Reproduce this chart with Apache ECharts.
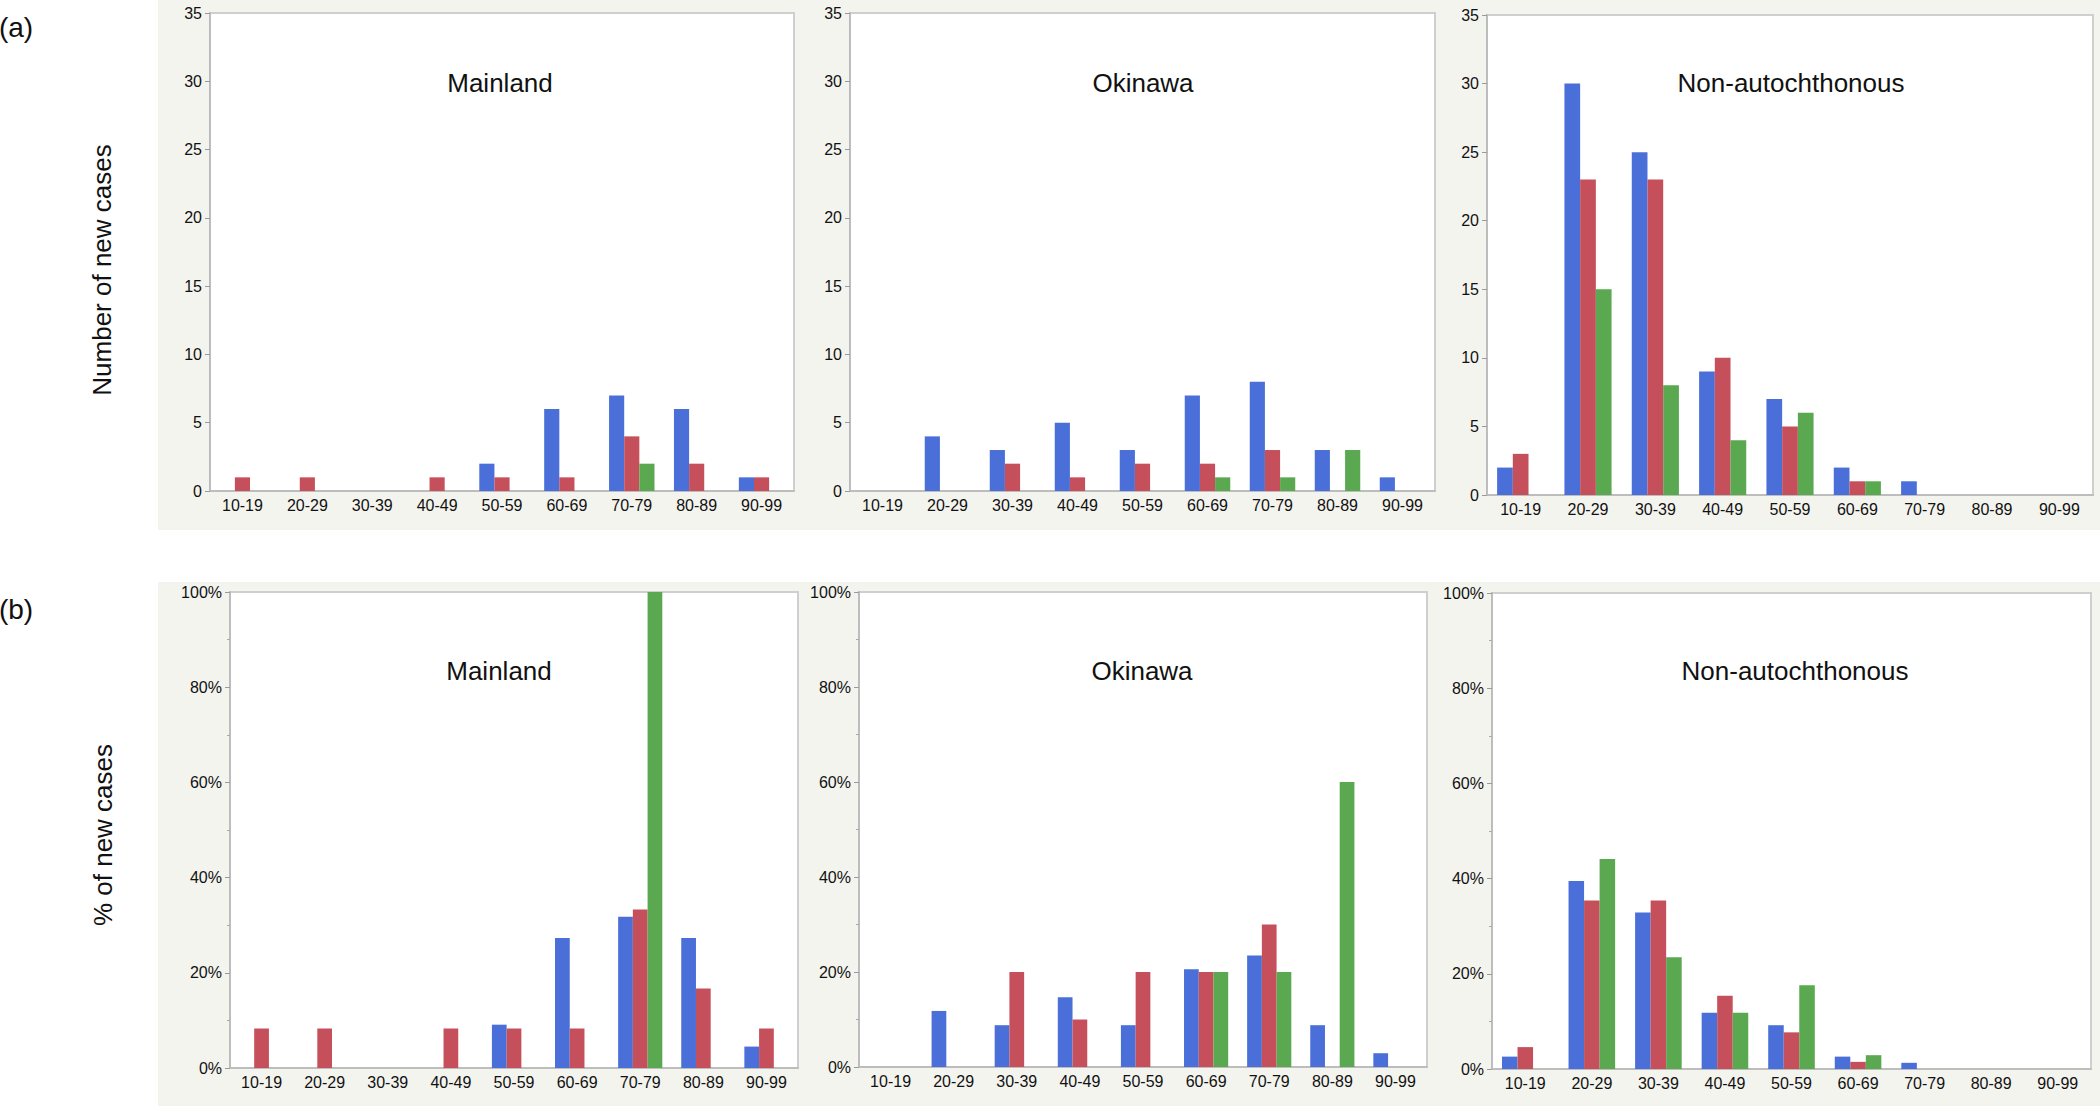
<!DOCTYPE html>
<html>
<head>
<meta charset="utf-8">
<script src="https://cdn.jsdelivr.net/npm/echarts@6/dist/echarts.min.js"></script>
<style>
  html, body { margin: 0; padding: 0; background: #ffffff; }
  #chart { width: 2100px; height: 1106px; }
</style>
</head>
<body>
<div id="chart"></div>
<script>
// ---------- data ----------
const categories = ['10-19', '20-29', '30-39', '40-49', '50-59', '60-69', '70-79', '80-89', '90-99'];
const panelTitles = ['Mainland', 'Okinawa', 'Non-autochthonous'];
const countTicks = [0, 5, 10, 15, 20, 25, 30, 35];
const percentTicks = ['0%', '20%', '40%', '60%', '80%', '100%'];

// (a) number of new cases
const mainlandCountBlue  = [0, 0, 0, 0, 2, 6, 7, 6, 1];
const mainlandCountRed   = [1, 1, 0, 1, 1, 1, 4, 2, 1];
const mainlandCountGreen = [0, 0, 0, 0, 0, 0, 2, 0, 0];

const okinawaCountBlue  = [0, 4, 3, 5, 3, 7, 8, 3, 1];
const okinawaCountRed   = [0, 0, 2, 1, 2, 2, 3, 0, 0];
const okinawaCountGreen = [0, 0, 0, 0, 0, 1, 1, 3, 0];

const nonAutoCountBlue  = [2, 30, 25, 9, 7, 2, 1, 0, 0];
const nonAutoCountRed   = [3, 23, 23, 10, 5, 1, 0, 0, 0];
const nonAutoCountGreen = [0, 15, 8, 4, 6, 1, 0, 0, 0];

// (b) % of new cases
const mainlandPctBlue  = [0, 0, 0, 0, 9.1, 27.3, 31.8, 27.3, 4.5];
const mainlandPctRed   = [8.3, 8.3, 0, 8.3, 8.3, 8.3, 33.3, 16.7, 8.3];
const mainlandPctGreen = [0, 0, 0, 0, 0, 0, 100, 0, 0];

const okinawaPctBlue  = [0, 11.8, 8.8, 14.7, 8.8, 20.6, 23.5, 8.8, 2.9];
const okinawaPctRed   = [0, 0, 20, 10, 20, 20, 30, 0, 0];
const okinawaPctGreen = [0, 0, 0, 0, 0, 20, 20, 60, 0];

const nonAutoPctBlue  = [2.6, 39.5, 32.9, 11.8, 9.2, 2.6, 1.3, 0, 0];
const nonAutoPctRed   = [4.6, 35.4, 35.4, 15.4, 7.7, 1.5, 0, 0, 0];
const nonAutoPctGreen = [0, 44.1, 23.5, 11.8, 17.6, 2.9, 0, 0, 0];

// ---------- styling / layout ----------
const FONT = "'Liberation Sans', Arial, Helvetica, sans-serif";
const colors = ['#4a6fd8', '#c5505b', '#5aa850'];
const seriesNames = ['Blue group', 'Red group', 'Green group'];

const panels = [
  // row (a)
  { left: 210, top: 13, right: 794, bottom: 491, kind: 'count', title: 0, tx: 500, ty: 83,
    data: [mainlandCountBlue, mainlandCountRed, mainlandCountGreen] },
  { left: 850, top: 13, right: 1435, bottom: 491, kind: 'count', title: 1, tx: 1143, ty: 83,
    data: [okinawaCountBlue, okinawaCountRed, okinawaCountGreen] },
  { left: 1487, top: 15, right: 2093, bottom: 495, kind: 'count', title: 2, tx: 1791, ty: 83,
    data: [nonAutoCountBlue, nonAutoCountRed, nonAutoCountGreen] },
  // row (b)
  { left: 230, top: 592, right: 798, bottom: 1068, kind: 'pct', title: 0, tx: 499, ty: 671,
    data: [mainlandPctBlue, mainlandPctRed, mainlandPctGreen] },
  { left: 859, top: 592, right: 1427, bottom: 1067, kind: 'pct', title: 1, tx: 1142, ty: 671,
    data: [okinawaPctBlue, okinawaPctRed, okinawaPctGreen] },
  { left: 1492, top: 593, right: 2091, bottom: 1069, kind: 'pct', title: 2, tx: 1795, ty: 671,
    data: [nonAutoPctBlue, nonAutoPctRed, nonAutoPctGreen] }
];

const grid = [], xAxis = [], yAxis = [], series = [];
const graphic = [
  { type: 'rect', z: -100, shape: { x: 158, y: 0, width: 1942, height: 530 }, style: { fill: '#f4f4ef' } },
  { type: 'rect', z: -100, shape: { x: 158, y: 582, width: 1942, height: 524 }, style: { fill: '#f4f4ef' } },
  { type: 'text', x: 16, y: 27, style: { text: '(a)', font: '28px ' + FONT, fill: '#111', textAlign: 'center', textVerticalAlign: 'middle' } },
  { type: 'text', x: 16, y: 609, style: { text: '(b)', font: '28px ' + FONT, fill: '#111', textAlign: 'center', textVerticalAlign: 'middle' } },
  { type: 'text', x: 102, y: 270, rotation: Math.PI / 2, style: { text: 'Number of new cases', font: '26px ' + FONT, fill: '#111', textAlign: 'center', textVerticalAlign: 'middle' } },
  { type: 'text', x: 103, y: 835, rotation: Math.PI / 2, style: { text: '% of new cases', font: '26px ' + FONT, fill: '#111', textAlign: 'center', textVerticalAlign: 'middle' } }
];

panels.forEach(function (p, i) {
  grid.push({
    left: p.left, top: p.top, width: p.right - p.left, height: p.bottom - p.top,
    show: true, backgroundColor: '#ffffff', borderColor: '#cfcfcf', borderWidth: 2
  });
  xAxis.push({
    type: 'category', gridIndex: i, data: categories, boundaryGap: true,
    axisLine: { show: true, lineStyle: { color: '#bdbdbd', width: 2 } },
    axisTick: { show: false },
    axisLabel: { color: '#111', fontFamily: FONT, fontSize: 16, margin: 6, interval: 0 }
  });
  const isPct = p.kind === 'pct';
  yAxis.push({
    type: 'value', gridIndex: i, min: 0,
    max: isPct ? 100 : countTicks[countTicks.length - 1],
    interval: isPct ? 20 : 5,
    splitLine: { show: false },
    axisLine: { show: true, lineStyle: { color: '#bdbdbd', width: 2 } },
    axisTick: { show: true, length: 5, lineStyle: { color: '#9a9a9a' } },
    minorTick: { show: isPct, splitNumber: 2, length: 3, lineStyle: { color: '#aaaaaa' } },
    axisLabel: {
      color: '#111', fontFamily: FONT, fontSize: 16, margin: 8,
      formatter: isPct ? function (v) { return percentTicks[Math.round(v / 20)] || (v + '%'); } : '{value}'
    }
  });
  graphic.push({ type: 'text', x: p.tx, y: p.ty,
    style: { text: panelTitles[p.title], font: '26px ' + FONT, fill: '#111', textAlign: 'center', textVerticalAlign: 'middle' } });
  p.data.forEach(function (arr, k) {
    series.push({
      type: 'bar', name: seriesNames[k], xAxisIndex: i, yAxisIndex: i,
      data: arr, barGap: '0%', barCategoryGap: '30%',
      itemStyle: { color: colors[k] }, silent: true, animation: false
    });
  });
});

const chart = echarts.init(document.getElementById('chart'), null, { renderer: 'svg' });
chart.setOption({
  backgroundColor: '#ffffff',
  animation: false,
  grid: grid, xAxis: xAxis, yAxis: yAxis, series: series, graphic: graphic
});
</script>
</body>
</html>
